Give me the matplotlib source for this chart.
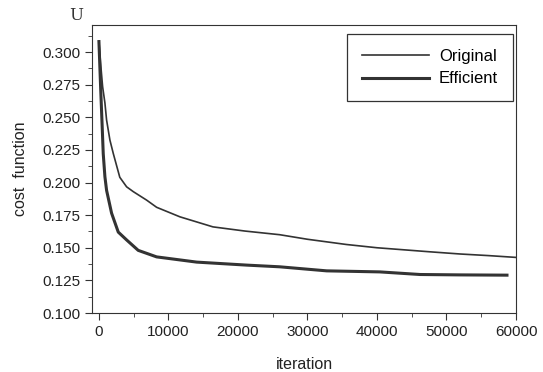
import numpy as np
import matplotlib
matplotlib.use('Agg')
import matplotlib.pyplot as plt
from matplotlib.ticker import MultipleLocator

plt.rcParams['font.family'] = ['Liberation Sans', 'DejaVu Sans']

##### DATA #####
orig_it = [0, 240, 530, 860, 1100, 1580, 2060, 3000, 3980, 4940, 6860, 8300,
           11650, 16400, 21000, 26000, 30000, 35600, 40000, 47600, 52000, 56000, 60000]
orig_cost = [0.308, 0.2913, 0.2734, 0.261, 0.2479, 0.2325, 0.2223, 0.204, 0.1967,
             0.193, 0.1865, 0.181, 0.1737, 0.166, 0.1628, 0.1600, 0.1565, 0.1525,
             0.1500, 0.1469, 0.1452, 0.1440, 0.1426]

eff_it = [0, 240, 430, 620, 860, 1100, 1820, 2780, 3980, 5650, 8300, 14060, 21250,
          26000, 32760, 40400, 46200, 52000, 58700]
eff_cost = [0.308, 0.2734, 0.2479, 0.222, 0.2044, 0.194, 0.1765, 0.162, 0.156, 0.148,
            0.143, 0.139, 0.1367, 0.1354, 0.1323, 0.1315, 0.1295, 0.1292, 0.129]

#### PLOT ####
fig = plt.figure(figsize=(5.43, 3.72), dpi=100)
ax = fig.add_axes([0.1694, 0.1586, 0.7809, 0.7742])

ax.plot(orig_it, orig_cost, color='#333333', lw=1.2, label='Original')
ax.plot(eff_it, eff_cost, color='#333333', lw=2.2, label='Efficient')

ax.set_xlim(-1000, 60000)
ax.set_ylim(0.100, 0.3207)
ax.xaxis.set_major_locator(MultipleLocator(10000))
ax.xaxis.set_minor_locator(MultipleLocator(5000))
ax.yaxis.set_major_locator(MultipleLocator(0.025))
ax.yaxis.set_minor_locator(MultipleLocator(0.0125))
ax.yaxis.set_major_formatter(matplotlib.ticker.FormatStrFormatter('%.3f'))
ax.tick_params(which='both', direction='out', colors='#333333', labelsize=11,
               labelcolor='#222222')
ax.tick_params(which='major', length=5)
ax.tick_params(which='minor', length=3)
for s in ax.spines.values():
    s.set_color('#333333')

ax.set_xlabel('iteration', fontsize=11.5, color='#222222', labelpad=13)
ax.set_ylabel('cost  function', fontsize=11.5, color='#222222', labelpad=10)
fig.text(0.128, 0.945, 'U', fontsize=12, family='DejaVu Serif', color='#333333')

leg = ax.legend(loc='upper right', fontsize=12, handlelength=4.0,
                fancybox=False, edgecolor='#333333', framealpha=1,
                borderpad=0.9, labelspacing=0.45, handletextpad=0.6,
                borderaxespad=0, bbox_to_anchor=(0.993, 0.969))
leg.get_frame().set_linewidth(0.9)

fig.savefig('out.png', dpi=100)
